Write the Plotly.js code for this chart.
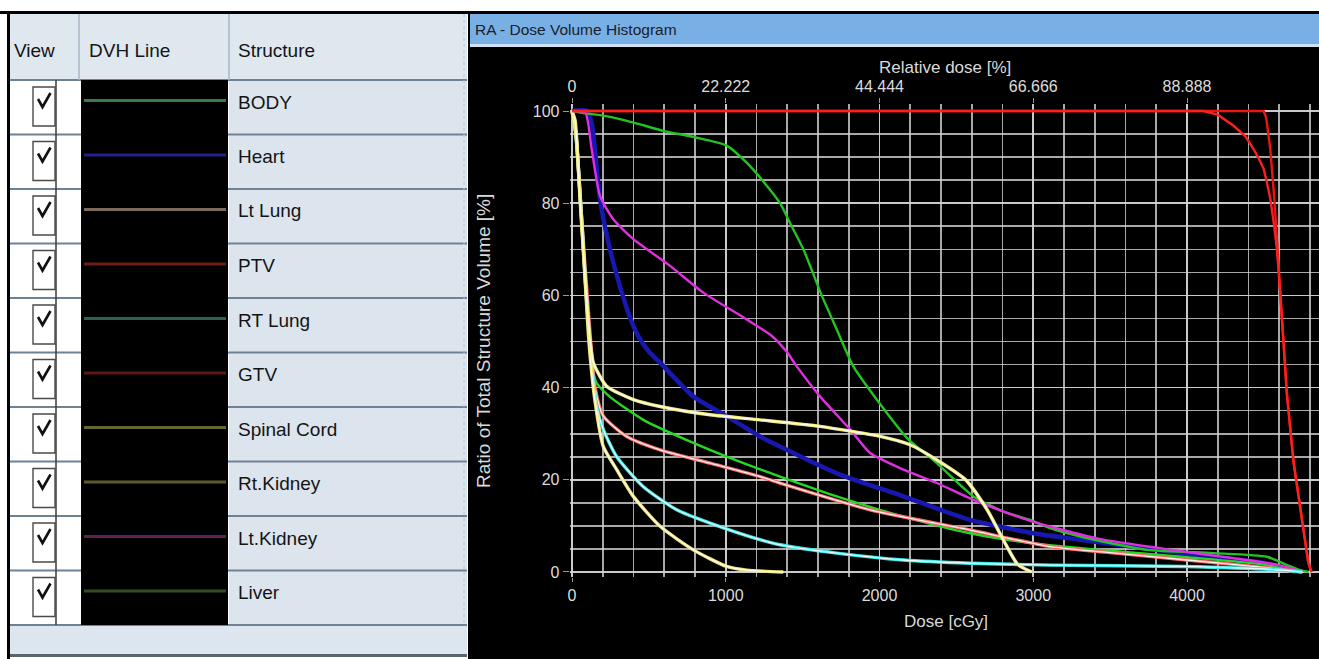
<!DOCTYPE html>
<html>
<head>
<meta charset="utf-8">
<script src="https://cdn.plot.ly/plotly-3.0.1.min.js"></script>
<style>html,body{margin:0;padding:0;background:#fff;}#chart{width:1319px;height:659px;}</style>
</head>
<body>
<div id="chart"></div>
<script>
// ---------- DATA ----------
const structures = ["BODY", "Heart", "Lt Lung", "PTV", "RT Lung", "GTV", "Spinal Cord", "Rt.Kidney", "Lt.Kidney", "Liver"];
const tableLineColors = ["#3c7a4c", "#22228c", "#7e6a5a", "#6c1c14", "#2f5f52", "#5c1812", "#66662c", "#5c5a2a", "#5c2254", "#324c26"];
const plotColors = ["#26d826", "#1818b0", "#ff6a6a", "#ff1e1e", "#38e8e8", "#ee1414", "#f0ea7c", "#ece37a", "#e02ee0", "#22c422"];
const whiteCore = [false, false, true, false, true, false, true, true, false, false];

const bodyDose   = [0, 25, 60, 100, 128, 160, 247, 464, 789, 1115, 1353, 1722, 2156, 2589, 3000, 3500, 4000, 4500, 4700];
const bodyVolume = [100, 95, 78, 58, 45, 41, 38, 33, 28, 23.6, 20.7, 16.4, 12, 8.4, 6.2, 4.6, 3.2, 1.6, 0];

const heartDose   = [0, 100, 130, 182, 247, 334, 380, 430, 500, 573, 789, 1006, 1223, 1353, 1722, 2156, 2589, 3023, 3305, 3956, 4496, 4710];
const heartVolume = [100, 100, 97, 80.9, 70, 59.5, 55, 51.2, 47.8, 45.4, 38.1, 33.8, 29.4, 27.2, 21.4, 16.4, 11.3, 8.3, 7, 4.1, 2, 0];

const ltLungDose   = [0, 25, 60, 110, 150, 204, 356, 573, 898, 1223, 1353, 1939, 2589, 3110, 3500, 4000, 4500, 4750];
const ltLungVolume = [100, 95, 78, 55, 40, 33.8, 29.4, 26.5, 23.6, 20.7, 19.3, 13.5, 9.1, 5.5, 4.2, 2.6, 1, 0];

const ptvDose   = [0, 4107, 4200, 4303, 4380, 4434, 4470, 4499, 4520, 4542, 4565, 4585, 4605, 4628, 4650, 4693, 4758, 4789, 4810];
const ptvVolume = [100, 100, 99.2, 96.8, 94.5, 91.7, 89.5, 87.4, 84.5, 80.9, 75.5, 70, 61, 50.4, 38.5, 23.8, 9.3, 2, 0];

const rtLungDose   = [0, 25, 60, 110, 160, 204, 291, 464, 681, 898, 1223, 1353, 1722, 2156, 2589, 3110, 3977, 4626, 4750];
const rtLungVolume = [100, 95, 78, 52, 36, 30.9, 25, 18.5, 13.5, 10.6, 7, 5.9, 4.1, 2.6, 1.9, 1.5, 1.2, 0.4, 0];

const gtvDose   = [0, 4499, 4515, 4530, 4542, 4568, 4600, 4628, 4650, 4693, 4758, 4789, 4810];
const gtvVolume = [100, 100, 98.5, 95, 91.7, 80.9, 65, 50.4, 38.5, 24, 9.5, 2, 0];

const spinalCordDose   = [0, 20, 52, 95, 117, 139, 225, 399, 573, 898, 1223, 1613, 2004, 2199, 2373, 2560, 2700, 2805, 2900, 2990];
const spinalCordVolume = [100, 98, 81, 59, 50.4, 45.4, 40.3, 37.4, 35.9, 34.1, 33, 31.6, 29.4, 27.6, 24.3, 20, 13.5, 7, 1.6, 0];

const rtKidneyDose   = [0, 25, 60, 110, 150, 204, 291, 399, 573, 789, 1006, 1136, 1374];
const rtKidneyVolume = [100, 95, 78, 50, 37, 27.2, 22.2, 16.4, 9.9, 4.8, 1.2, 0.4, 0];

const ltKidneyDose   = [0, 85, 128, 182, 269, 399, 638, 854, 1136, 1300, 1400, 1462, 1613, 1809, 1939, 2156, 2373, 2633, 2980, 3414, 3900, 4300, 4600, 4750];
const ltKidneyVolume = [100, 99.7, 91.7, 81.6, 76.5, 72.2, 66.4, 60.6, 54.8, 51.2, 47.6, 44.6, 38.1, 30.9, 25.8, 22.2, 19.3, 15.3, 11.1, 7.3, 4.8, 3, 1.5, 0];

const liverDose   = [0, 85, 204, 400, 593, 800, 1006, 1136, 1267, 1353, 1429, 1505, 1624, 1722, 1830, 1982, 2178, 2373, 2611, 2806, 2980, 3110, 3305, 3739, 4171, 4520, 4650, 4736, 4790];
const liverVolume = [100, 99.5, 99, 97.5, 95.7, 94.3, 92.5, 88.8, 83.8, 80, 75, 70, 60, 52.6, 44.6, 37.4, 29.1, 23.6, 16.4, 13.1, 11.3, 9.5, 7.7, 4.8, 4.1, 3.3, 1.5, 0.4, 0];

const seriesDose   = [bodyDose, heartDose, ltLungDose, ptvDose, rtLungDose, gtvDose, spinalCordDose, rtKidneyDose, ltKidneyDose, liverDose];
const seriesVolume = [bodyVolume, heartVolume, ltLungVolume, ptvVolume, rtLungVolume, gtvVolume, spinalCordVolume, rtKidneyVolume, ltKidneyVolume, liverVolume];
const linearSeries = [false, false, false, true, false, true, false, false, false, false];

const doseTickVals = [0, 1000, 2000, 3000, 4000];
const volumeTickVals = [0, 20, 40, 60, 80, 100];
const relDoseTickVals = [0, 22.222, 44.444, 66.666, 88.888];
const relDoseTickText = ["0", "22.222", "44.444", "66.666", "88.888"];
const prescriptionDose = 4500; // cGy = 100 % relative dose

const headerLabels = ["View", "DVH Line", "Structure"];
const windowTitle = "RA - Dose Volume Histogram";

// ---------- LAYOUT HELPERS ----------
const W = 1319, H = 659;
const X = p => p / W, Y = p => 1 - p / H;
function rect(x0, y0, x1, y1, fill, lc, lw, layer) {
  return {type: 'rect', xref: 'paper', yref: 'paper', x0: X(x0), x1: X(x1), y0: Y(y1), y1: Y(y0),
          fillcolor: fill, line: {color: lc || fill, width: lw || 0}, layer: layer || 'above'};
}
function seg(x0, y0, x1, y1, color, w, dash) {
  return {type: 'line', xref: 'paper', yref: 'paper', x0: X(x0), y0: Y(y0), x1: X(x1), y1: Y(y1),
          line: {color: color, width: w, dash: dash || 'solid'}};
}

// plot area geometry
const xMin = -15, xMax = 4858.5;
const yMin = -1, yMax = 101.5;
const plotLeftPx = 569.7, plotTopPx = 104.1, plotBottomPx = 576.6;

// ---------- TRACES ----------
const drawOrder = [1, 9, 0, 8, 2, 4, 7, 6, 5, 3];
const traces = [];
drawOrder.forEach(i => {
  const thick = (i === 1) ? 4.5 : (whiteCore[i] ? 3.4 : 2.4);
  const shp = linearSeries[i] ? {shape: 'linear'} : {shape: 'spline', smoothing: 0.6};
  traces.push({
    type: 'scatter', mode: 'lines', name: structures[i],
    x: seriesDose[i], y: seriesVolume[i],
    line: Object.assign({color: plotColors[i], width: thick}, shp),
    hoverinfo: 'name+x+y', showlegend: false
  });
  if (whiteCore[i]) {
    traces.push({
      type: 'scatter', mode: 'lines', name: structures[i],
      x: seriesDose[i], y: seriesVolume[i],
      line: Object.assign({color: 'rgba(255,255,250,0.9)', width: 1.3}, shp),
      hoverinfo: 'skip', showlegend: false
    });
  }
});
// carrier trace for the relative-dose (top) axis
traces.push({type: 'scatter', mode: 'lines', x: relDoseTickVals, y: relDoseTickVals.map(() => null),
             xaxis: 'x2', yaxis: 'y', hoverinfo: 'skip', showlegend: false});

// ---------- TABLE (left panel) ----------
const shapes = [];
const annotations = [];
const rowH = 54.5, tableTop = 80, tableBottom = tableTop + rowH * structures.length;

shapes.push(rect(468, 14, 1319, 659, '#000000', null, 0, 'below'));
shapes.push(rect(10, 14, 467, tableTop, '#dfe7ef'));
shapes.push(rect(10, tableTop, 80, tableBottom, '#ffffff'));
shapes.push(rect(229, tableTop, 467, tableBottom, '#dce5ee'));
shapes.push(rect(10, tableBottom, 467, 655, '#dde6ef'));
shapes.push(rect(10, 654, 467, 657, '#5a6470'));
for (let i = 0; i <= structures.length; i++) {
  const y = tableTop + i * rowH;
  shapes.push(seg(10, y, 467, y, '#6e8296', 2.2));
}
shapes.push(seg(79, 14, 79, tableTop, '#a8b6c4', 1.5));
shapes.push(seg(229, 14, 229, tableTop, '#a8b6c4', 1.5));
shapes.push(seg(464, 14, 464, tableBottom, '#b8c4d0', 1, 'dot'));
shapes.push(rect(81, tableTop, 228, tableBottom, '#000000'));
shapes.push(seg(56, tableTop, 56, tableBottom, '#3a3a3a', 1.5));
structures.forEach((s, i) => {
  const top = tableTop + i * rowH;
  shapes.push(rect(33, top + 7, 55, top + 46, '#ffffff', '#4a4a4a', 1.4));
  shapes.push({type: 'path', xref: 'paper', yref: 'paper',
    path: `M ${X(38)} ${Y(top + 19)} L ${X(42.5)} ${Y(top + 27)} L ${X(50.5)} ${Y(top + 13)}`,
    line: {color: '#111111', width: 2.6}});
  shapes.push(seg(84, top + 20.5, 226, top + 20.5, tableLineColors[i], 3));
  annotations.push({xref: 'paper', yref: 'paper', x: X(236), y: Y(top + 22), xanchor: 'left', yanchor: 'middle',
    text: s, showarrow: false, font: {family: 'Liberation Sans, Arial, sans-serif', size: 19, color: '#141414'}});
});
const headerX = [12, 87, 236];
headerLabels.forEach((h, i) => {
  annotations.push({xref: 'paper', yref: 'paper', x: X(headerX[i]), y: Y(50), xanchor: 'left', yanchor: 'middle',
    text: h, showarrow: false, font: {family: 'Liberation Sans, Arial, sans-serif', size: 19, color: '#141414'}});
});

// frame and window header
shapes.push(rect(0, 11, 1319, 14, '#000000'));
shapes.push(rect(7, 11, 10, 659, '#000000'));
shapes.push(rect(470, 14, 1319, 44, '#78b0e6'));
shapes.push(rect(470, 44, 1319, 47, '#cfe2f5'));
annotations.push({xref: 'paper', yref: 'paper', x: X(473), y: Y(30), xanchor: 'left', yanchor: 'middle',
  text: windowTitle, showarrow: false, font: {family: 'Liberation Sans, Arial, sans-serif', size: 15.5, color: '#18202c'}});

// axis titles
const axisFont = {family: 'Liberation Sans, Arial, sans-serif', size: 17, color: '#dadada'};
annotations.push({xref: 'paper', yref: 'paper', x: X(945), y: Y(67), xanchor: 'center', yanchor: 'middle',
  text: 'Relative dose [%]', showarrow: false, font: axisFont});
annotations.push({xref: 'paper', yref: 'paper', x: X(946), y: Y(621), xanchor: 'center', yanchor: 'middle',
  text: 'Dose [cGy]', showarrow: false, font: axisFont});
annotations.push({xref: 'paper', yref: 'paper', x: X(483), y: Y(341), xanchor: 'center', yanchor: 'middle',
  text: 'Ratio of Total Structure Volume [%]', textangle: -90, showarrow: false,
  font: {family: 'Liberation Sans, Arial, sans-serif', size: 19, color: '#dadada'}});

// ---------- LAYOUT ----------
const gridCol = 'rgba(210,210,210,0.8)';
const tickFont = {family: 'Liberation Sans, Arial, sans-serif', size: 16, color: '#dcdcdc'};
const layout = {
  width: W, height: H,
  margin: {l: 0, r: 0, t: 0, b: 0, pad: 0},
  paper_bgcolor: '#ffffff', plot_bgcolor: '#000000',
  showlegend: false,
  xaxis: {
    domain: [X(plotLeftPx), 1], range: [xMin, xMax], anchor: 'y',
    tickvals: doseTickVals, ticks: 'outside', ticklen: 4, tickcolor: '#9a9a9a',
    tickfont: tickFont, showgrid: true, gridcolor: gridCol, gridwidth: 1.6,
    minor: {dtick: 200, tick0: 0, showgrid: true, gridcolor: gridCol, gridwidth: 1.6},
    zeroline: false, showline: false, fixedrange: true
  },
  xaxis2: {
    overlaying: 'x', side: 'top', anchor: 'y',
    range: [xMin / prescriptionDose * 100, xMax / prescriptionDose * 100],
    tickvals: relDoseTickVals, ticktext: relDoseTickText, ticks: 'outside', ticklen: 5, tickcolor: '#9a9a9a',
    tickfont: tickFont, showgrid: false, zeroline: false, showline: false, fixedrange: true
  },
  yaxis: {
    domain: [Y(plotBottomPx), Y(plotTopPx)], range: [yMin, yMax], anchor: 'x',
    tickvals: volumeTickVals, ticks: 'outside', ticklen: 6, tickcolor: '#9a9a9a',
    tickfont: tickFont, showgrid: true, gridcolor: gridCol, gridwidth: 1.6,
    minor: {dtick: 5, tick0: 0, showgrid: true, gridcolor: gridCol, gridwidth: 1.6},
    zeroline: false, showline: false, fixedrange: true
  },
  shapes: shapes,
  annotations: annotations
};

Plotly.newPlot('chart', traces, layout, {displayModeBar: false, staticPlot: true});
</script>
</body>
</html>
